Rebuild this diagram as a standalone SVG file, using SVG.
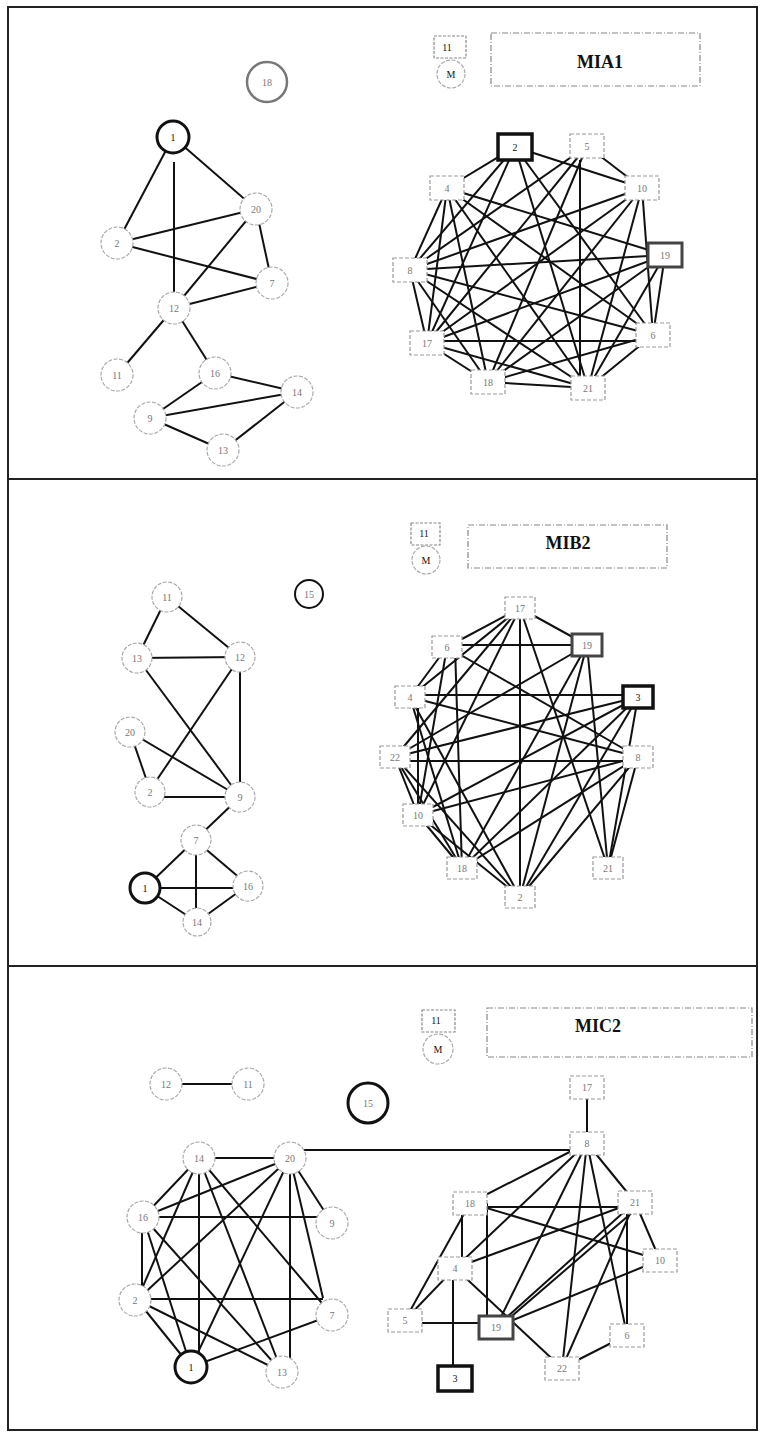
<svg xmlns="http://www.w3.org/2000/svg" width="765" height="1434" viewBox="0 0 765 1434">
<style>
.frame{fill:none;stroke:#222;stroke-width:2}
.e{stroke:#111;stroke-width:2;fill:none}
.c{fill:#fff;stroke:#aaa;stroke-width:1.2;stroke-dasharray:4 1.5}
.cb{fill:#fff;stroke:#111;stroke-width:3}
.cg{fill:#fff;stroke:#777;stroke-width:2.5}
.s{fill:#fff;stroke:#999;stroke-width:1.2;stroke-dasharray:4 2}
.sb{fill:#fff;stroke:#111;stroke-width:3.5}
.sg{fill:#fff;stroke:#444;stroke-width:3}
.t{font-family:"Liberation Serif",serif;font-size:10px;fill:#777;text-anchor:middle;dominant-baseline:central}
.tb{font-family:"Liberation Serif",serif;font-size:10px;fill:#111;text-anchor:middle;dominant-baseline:central}
.title{font-family:"Liberation Serif",serif;font-size:18px;font-weight:bold;fill:#111;text-anchor:middle;dominant-baseline:central}
.tbox{fill:none;stroke:#888;stroke-width:1.2;stroke-dasharray:6 2 1 2}
.leg{fill:none;stroke:#888;stroke-width:1.2;stroke-dasharray:3 1.5}
</style>
<rect class="frame" x="8" y="7" width="749" height="1423"/>
<line class="frame" x1="8" y1="479" x2="757" y2="479"/>
<line class="frame" x1="8" y1="966" x2="757" y2="966"/>

<!-- Panel 1 connectors -->
<g id="connectors-1">
<line class="e" x1="173" y1="137" x2="117" y2="243"/>
<line class="e" x1="174" y1="162" x2="174" y2="308"/>
<line class="e" x1="173" y1="137" x2="256" y2="209"/>
<line class="e" x1="117" y1="243" x2="256" y2="209"/>
<line class="e" x1="117" y1="243" x2="272" y2="283"/>
<line class="e" x1="256" y1="209" x2="174" y2="308"/>
<line class="e" x1="256" y1="209" x2="272" y2="283"/>
<line class="e" x1="174" y1="308" x2="272" y2="283"/>
<line class="e" x1="174" y1="308" x2="117" y2="375"/>
<line class="e" x1="174" y1="308" x2="215" y2="373"/>
<line class="e" x1="215" y1="373" x2="150" y2="418"/>
<line class="e" x1="215" y1="373" x2="297" y2="392"/>
<line class="e" x1="150" y1="418" x2="297" y2="392"/>
<line class="e" x1="150" y1="418" x2="223" y2="450"/>
<line class="e" x1="223" y1="450" x2="297" y2="392"/>
<!-- right -->
<line class="e" x1="515" y1="147" x2="447" y2="188"/>
<line class="e" x1="515" y1="147" x2="410" y2="270"/>
<line class="e" x1="515" y1="147" x2="427" y2="343"/>
<line class="e" x1="515" y1="147" x2="642" y2="188"/>
<line class="e" x1="515" y1="147" x2="653" y2="335"/>
<line class="e" x1="515" y1="147" x2="588" y2="388"/>
<line class="e" x1="587" y1="146" x2="642" y2="188"/>
<line class="e" x1="587" y1="146" x2="410" y2="270"/>
<line class="e" x1="587" y1="146" x2="488" y2="382"/>
<line class="e" x1="580" y1="160" x2="580" y2="388"/>
<line class="e" x1="587" y1="146" x2="427" y2="343"/>
<line class="e" x1="447" y1="188" x2="410" y2="270"/>
<line class="e" x1="447" y1="188" x2="427" y2="343"/>
<line class="e" x1="447" y1="188" x2="488" y2="382"/>
<line class="e" x1="447" y1="188" x2="588" y2="388"/>
<line class="e" x1="447" y1="188" x2="665" y2="255"/>
<line class="e" x1="447" y1="188" x2="653" y2="335"/>
<line class="e" x1="642" y1="188" x2="410" y2="270"/>
<line class="e" x1="642" y1="188" x2="488" y2="382"/>
<line class="e" x1="642" y1="188" x2="588" y2="388"/>
<line class="e" x1="642" y1="188" x2="653" y2="335"/>
<line class="e" x1="642" y1="188" x2="427" y2="343"/>
<line class="e" x1="665" y1="255" x2="410" y2="270"/>
<line class="e" x1="665" y1="255" x2="427" y2="343"/>
<line class="e" x1="665" y1="255" x2="653" y2="335"/>
<line class="e" x1="665" y1="255" x2="588" y2="388"/>
<line class="e" x1="665" y1="255" x2="488" y2="382"/>
<line class="e" x1="410" y1="270" x2="427" y2="343"/>
<line class="e" x1="410" y1="270" x2="488" y2="382"/>
<line class="e" x1="410" y1="270" x2="588" y2="388"/>
<line class="e" x1="410" y1="270" x2="653" y2="335"/>
<line class="e" x1="427" y1="343" x2="488" y2="382"/>
<line class="e" x1="427" y1="341" x2="653" y2="341"/>
<line class="e" x1="427" y1="343" x2="588" y2="388"/>
<line class="e" x1="488" y1="382" x2="588" y2="388"/>
<line class="e" x1="488" y1="382" x2="653" y2="335"/>
<line class="e" x1="588" y1="388" x2="653" y2="335"/>
</g>

<!-- Panel 1 legend/title -->
<g id="legend-1">
<rect class="leg" x="434" y="36" width="32" height="22"/>
<text class="tb" x="447" y="47">11</text>
<circle class="c" cx="451" cy="74" r="14"/>
<text class="tb" x="451" y="74">M</text>
</g>
<g id="title-1">
<rect class="tbox" x="491" y="33" width="209" height="53"/>
<text class="title" x="600" y="62">MIA1</text>
</g>

<!-- Panel 1 nodes -->
<g id="p1-n18"><circle class="cg" cx="267" cy="82" r="20"/><text class="t" x="267" y="82">18</text></g>
<g id="p1-n1"><circle class="cb" cx="173" cy="137" r="16"/><text class="tb" x="173" y="137">1</text></g>
<g id="p1-n20"><circle class="c" cx="256" cy="209" r="16"/><text class="t" x="256" y="209">20</text></g>
<g id="p1-n2"><circle class="c" cx="117" cy="243" r="16"/><text class="t" x="117" y="243">2</text></g>
<g id="p1-n7"><circle class="c" cx="272" cy="283" r="16"/><text class="t" x="272" y="283">7</text></g>
<g id="p1-n12"><circle class="c" cx="174" cy="308" r="16"/><text class="t" x="174" y="308">12</text></g>
<g id="p1-n11"><circle class="c" cx="117" cy="375" r="16"/><text class="t" x="117" y="375">11</text></g>
<g id="p1-n16"><circle class="c" cx="215" cy="373" r="16"/><text class="t" x="215" y="373">16</text></g>
<g id="p1-n14"><circle class="c" cx="297" cy="392" r="16"/><text class="t" x="297" y="392">14</text></g>
<g id="p1-n9"><circle class="c" cx="150" cy="418" r="16"/><text class="t" x="150" y="418">9</text></g>
<g id="p1-n13"><circle class="c" cx="223" cy="450" r="16"/><text class="t" x="223" y="450">13</text></g>

<g id="p1-s2"><rect class="sb" x="498" y="134" width="34" height="26"/><text class="tb" x="515" y="147">2</text></g>
<g id="p1-s5"><rect class="s" x="570" y="134" width="34" height="24"/><text class="t" x="587" y="146">5</text></g>
<g id="p1-s10"><rect class="s" x="625" y="176" width="34" height="24"/><text class="t" x="642" y="188">10</text></g>
<g id="p1-s4"><rect class="s" x="430" y="176" width="34" height="24"/><text class="t" x="447" y="188">4</text></g>
<g id="p1-s19"><rect class="sg" x="648" y="243" width="34" height="24"/><text class="t" x="665" y="255">19</text></g>
<g id="p1-s8"><rect class="s" x="393" y="258" width="34" height="24"/><text class="t" x="410" y="270">8</text></g>
<g id="p1-s17"><rect class="s" x="410" y="331" width="34" height="24"/><text class="t" x="427" y="343">17</text></g>
<g id="p1-s18"><rect class="s" x="471" y="370" width="34" height="24"/><text class="t" x="488" y="382">18</text></g>
<g id="p1-s21"><rect class="s" x="571" y="376" width="34" height="24"/><text class="t" x="588" y="388">21</text></g>
<g id="p1-s6"><rect class="s" x="636" y="323" width="34" height="24"/><text class="t" x="653" y="335">6</text></g>

<!-- Panel 2 connectors -->
<g id="connectors-2">
<line class="e" x1="167" y1="597" x2="137" y2="658"/>
<line class="e" x1="167" y1="597" x2="240" y2="657"/>
<line class="e" x1="137" y1="658" x2="240" y2="657"/>
<line class="e" x1="137" y1="658" x2="240" y2="797"/>
<line class="e" x1="240" y1="657" x2="150" y2="790"/>
<line class="e" x1="240" y1="657" x2="240" y2="797"/>
<line class="e" x1="130" y1="732" x2="150" y2="790"/>
<line class="e" x1="130" y1="732" x2="240" y2="797"/>
<line class="e" x1="150" y1="797" x2="240" y2="797"/>
<line class="e" x1="240" y1="797" x2="195" y2="840"/>
<line class="e" x1="195" y1="840" x2="145" y2="888"/>
<line class="e" x1="195" y1="840" x2="248" y2="885"/>
<line class="e" x1="196" y1="840" x2="196" y2="922"/>
<line class="e" x1="145" y1="888" x2="248" y2="888"/>
<line class="e" x1="145" y1="888" x2="197" y2="922"/>
<line class="e" x1="197" y1="922" x2="248" y2="885"/>
<!-- right -->
<line class="e" x1="520" y1="608" x2="447" y2="647"/>
<line class="e" x1="520" y1="608" x2="587" y2="645"/>
<line class="e" x1="520" y1="608" x2="410" y2="697"/>
<line class="e" x1="520" y1="608" x2="395" y2="757"/>
<line class="e" x1="520" y1="608" x2="418" y2="815"/>
<line class="e" x1="520" y1="608" x2="520" y2="897"/>
<line class="e" x1="520" y1="608" x2="608" y2="868"/>
<line class="e" x1="447" y1="645" x2="587" y2="645"/>
<line class="e" x1="447" y1="647" x2="410" y2="697"/>
<line class="e" x1="455" y1="647" x2="462" y2="868"/>
<line class="e" x1="447" y1="647" x2="638" y2="757"/>
<line class="e" x1="447" y1="647" x2="418" y2="815"/>
<line class="e" x1="587" y1="645" x2="395" y2="757"/>
<line class="e" x1="587" y1="645" x2="520" y2="897"/>
<line class="e" x1="587" y1="645" x2="462" y2="868"/>
<line class="e" x1="587" y1="645" x2="608" y2="868"/>
<line class="e" x1="410" y1="695" x2="638" y2="695"/>
<line class="e" x1="410" y1="697" x2="638" y2="757"/>
<line class="e" x1="418" y1="697" x2="418" y2="815"/>
<line class="e" x1="410" y1="697" x2="462" y2="868"/>
<line class="e" x1="410" y1="697" x2="520" y2="897"/>
<line class="e" x1="638" y1="697" x2="395" y2="757"/>
<line class="e" x1="638" y1="697" x2="418" y2="815"/>
<line class="e" x1="638" y1="697" x2="462" y2="868"/>
<line class="e" x1="638" y1="697" x2="520" y2="897"/>
<line class="e" x1="638" y1="697" x2="608" y2="868"/>
<line class="e" x1="395" y1="761" x2="638" y2="761"/>
<line class="e" x1="395" y1="757" x2="418" y2="815"/>
<line class="e" x1="395" y1="757" x2="462" y2="868"/>
<line class="e" x1="395" y1="757" x2="520" y2="897"/>
<line class="e" x1="638" y1="757" x2="418" y2="815"/>
<line class="e" x1="638" y1="757" x2="520" y2="897"/>
<line class="e" x1="638" y1="757" x2="608" y2="868"/>
<line class="e" x1="638" y1="757" x2="462" y2="868"/>
<line class="e" x1="418" y1="815" x2="462" y2="868"/>
<line class="e" x1="418" y1="815" x2="520" y2="897"/>
</g>

<g id="legend-2">
<rect class="leg" x="411" y="523" width="29" height="22"/>
<text class="tb" x="424" y="533">11</text>
<circle class="c" cx="426" cy="560" r="14"/>
<text class="tb" x="426" y="560">M</text>
</g>
<g id="title-2">
<rect class="tbox" x="468" y="525" width="199" height="43"/>
<text class="title" x="568" y="543">MIB2</text>
</g>

<g id="p2-n15"><circle class="cb" cx="309" cy="594" r="14" style="stroke-width:2"/><text class="t" x="309" y="594">15</text></g>
<g id="p2-n11"><circle class="c" cx="167" cy="597" r="15"/><text class="t" x="167" y="597">11</text></g>
<g id="p2-n13"><circle class="c" cx="137" cy="658" r="15"/><text class="t" x="137" y="658">13</text></g>
<g id="p2-n12"><circle class="c" cx="240" cy="657" r="15"/><text class="t" x="240" y="657">12</text></g>
<g id="p2-n20"><circle class="c" cx="130" cy="732" r="15"/><text class="t" x="130" y="732">20</text></g>
<g id="p2-n2"><circle class="c" cx="150" cy="792" r="15"/><text class="t" x="150" y="792">2</text></g>
<g id="p2-n9"><circle class="c" cx="240" cy="797" r="15"/><text class="t" x="240" y="797">9</text></g>
<g id="p2-n7"><circle class="c" cx="196" cy="840" r="15"/><text class="t" x="196" y="840">7</text></g>
<g id="p2-n1"><circle class="cb" cx="145" cy="888" r="15"/><text class="tb" x="145" y="888">1</text></g>
<g id="p2-n16"><circle class="c" cx="248" cy="886" r="15"/><text class="t" x="248" y="886">16</text></g>
<g id="p2-n14"><circle class="c" cx="197" cy="922" r="14"/><text class="t" x="197" y="922">14</text></g>

<g id="p2-s17"><rect class="s" x="505" y="597" width="30" height="22"/><text class="t" x="520" y="608">17</text></g>
<g id="p2-s6"><rect class="s" x="432" y="636" width="30" height="22"/><text class="t" x="447" y="647">6</text></g>
<g id="p2-s19"><rect class="sg" x="572" y="634" width="30" height="22"/><text class="t" x="587" y="645">19</text></g>
<g id="p2-s4"><rect class="s" x="395" y="686" width="30" height="22"/><text class="t" x="410" y="697">4</text></g>
<g id="p2-s3"><rect class="sb" x="623" y="686" width="30" height="22"/><text class="tb" x="638" y="697">3</text></g>
<g id="p2-s22"><rect class="s" x="380" y="746" width="30" height="22"/><text class="t" x="395" y="757">22</text></g>
<g id="p2-s8"><rect class="s" x="623" y="746" width="30" height="22"/><text class="t" x="638" y="757">8</text></g>
<g id="p2-s10"><rect class="s" x="403" y="804" width="30" height="22"/><text class="t" x="418" y="815">10</text></g>
<g id="p2-s18"><rect class="s" x="447" y="857" width="30" height="22"/><text class="t" x="462" y="868">18</text></g>
<g id="p2-s21"><rect class="s" x="593" y="857" width="30" height="22"/><text class="t" x="608" y="868">21</text></g>
<g id="p2-s2"><rect class="s" x="505" y="886" width="30" height="22"/><text class="t" x="520" y="897">2</text></g>

<!-- Panel 3 connectors -->
<g id="connectors-3">
<line class="e" x1="166" y1="1084" x2="248" y2="1084"/>
<line class="e" x1="199" y1="1158" x2="290" y2="1158"/>
<line class="e" x1="199" y1="1158" x2="143" y2="1217"/>
<line class="e" x1="199" y1="1158" x2="137" y2="1300"/>
<line class="e" x1="199" y1="1158" x2="199" y2="1367"/>
<line class="e" x1="199" y1="1158" x2="282" y2="1372"/>
<line class="e" x1="199" y1="1158" x2="332" y2="1315"/>
<line class="e" x1="290" y1="1158" x2="143" y2="1217"/>
<line class="e" x1="290" y1="1158" x2="137" y2="1300"/>
<line class="e" x1="290" y1="1158" x2="191" y2="1367"/>
<line class="e" x1="290" y1="1158" x2="290" y2="1372"/>
<line class="e" x1="290" y1="1158" x2="332" y2="1223"/>
<line class="e" x1="290" y1="1158" x2="323" y2="1298"/>
<line class="e" x1="143" y1="1217" x2="332" y2="1217"/>
<line class="e" x1="142" y1="1217" x2="142" y2="1300"/>
<line class="e" x1="143" y1="1217" x2="191" y2="1367"/>
<line class="e" x1="143" y1="1217" x2="282" y2="1372"/>
<line class="e" x1="137" y1="1299" x2="323" y2="1299"/>
<line class="e" x1="137" y1="1300" x2="191" y2="1367"/>
<line class="e" x1="137" y1="1300" x2="282" y2="1372"/>
<line class="e" x1="191" y1="1367" x2="332" y2="1315"/>
<line class="e" x1="290" y1="1150" x2="587" y2="1150"/>
<!-- right -->
<line class="e" x1="587" y1="1087" x2="587" y2="1143"/>
<line class="e" x1="587" y1="1143" x2="470" y2="1203"/>
<line class="e" x1="587" y1="1143" x2="455" y2="1268"/>
<line class="e" x1="587" y1="1143" x2="496" y2="1327"/>
<line class="e" x1="587" y1="1143" x2="562" y2="1368"/>
<line class="e" x1="587" y1="1143" x2="627" y2="1335"/>
<line class="e" x1="587" y1="1143" x2="635" y2="1202"/>
<line class="e" x1="470" y1="1207" x2="635" y2="1207"/>
<line class="e" x1="462" y1="1203" x2="462" y2="1268"/>
<line class="e" x1="470" y1="1203" x2="405" y2="1320"/>
<line class="e" x1="487" y1="1203" x2="487" y2="1327"/>
<line class="e" x1="470" y1="1203" x2="660" y2="1260"/>
<line class="e" x1="635" y1="1202" x2="455" y2="1268"/>
<line class="e" x1="635" y1="1202" x2="496" y2="1327"/>
<line class="e" x1="635" y1="1210" x2="505" y2="1322"/>
<line class="e" x1="635" y1="1202" x2="562" y2="1368"/>
<line class="e" x1="627" y1="1202" x2="627" y2="1335"/>
<line class="e" x1="635" y1="1202" x2="660" y2="1260"/>
<line class="e" x1="455" y1="1268" x2="562" y2="1368"/>
<line class="e" x1="455" y1="1268" x2="405" y2="1320"/>
<line class="e" x1="453" y1="1268" x2="453" y2="1378"/>
<line class="e" x1="405" y1="1323" x2="496" y2="1323"/>
<line class="e" x1="496" y1="1327" x2="660" y2="1260"/>
<line class="e" x1="562" y1="1368" x2="627" y2="1335"/>
</g>

<g id="legend-3">
<rect class="leg" x="422" y="1010" width="33" height="22"/>
<text class="tb" x="436" y="1020">11</text>
<circle class="c" cx="438" cy="1049" r="15"/>
<text class="tb" x="438" y="1049">M</text>
</g>
<g id="title-3">
<rect class="tbox" x="487" y="1008" width="265" height="49"/>
<text class="title" x="598" y="1026">MIC2</text>
</g>

<g id="p3-n12"><circle class="c" cx="166" cy="1084" r="16"/><text class="t" x="166" y="1084">12</text></g>
<g id="p3-n11"><circle class="c" cx="248" cy="1084" r="16"/><text class="t" x="248" y="1084">11</text></g>
<g id="p3-n15"><circle class="cb" cx="368" cy="1103" r="20"/><text class="t" x="368" y="1103">15</text></g>
<g id="p3-n14"><circle class="c" cx="199" cy="1158" r="16"/><text class="t" x="199" y="1158">14</text></g>
<g id="p3-n20"><circle class="c" cx="290" cy="1158" r="16"/><text class="t" x="290" y="1158">20</text></g>
<g id="p3-n16"><circle class="c" cx="143" cy="1217" r="16"/><text class="t" x="143" y="1217">16</text></g>
<g id="p3-n9"><circle class="c" cx="332" cy="1223" r="16"/><text class="t" x="332" y="1223">9</text></g>
<g id="p3-n2"><circle class="c" cx="135" cy="1300" r="16"/><text class="t" x="135" y="1300">2</text></g>
<g id="p3-n7"><circle class="c" cx="332" cy="1315" r="16"/><text class="t" x="332" y="1315">7</text></g>
<g id="p3-n1"><circle class="cb" cx="191" cy="1367" r="16"/><text class="tb" x="191" y="1367">1</text></g>
<g id="p3-n13"><circle class="c" cx="282" cy="1372" r="16"/><text class="t" x="282" y="1372">13</text></g>

<g id="p3-s17"><rect class="s" x="570" y="1076" width="34" height="23"/><text class="t" x="587" y="1087">17</text></g>
<g id="p3-s8"><rect class="s" x="570" y="1132" width="34" height="23"/><text class="t" x="587" y="1143">8</text></g>
<g id="p3-s18"><rect class="s" x="453" y="1192" width="34" height="23"/><text class="t" x="470" y="1203">18</text></g>
<g id="p3-s21"><rect class="s" x="618" y="1191" width="34" height="23"/><text class="t" x="635" y="1202">21</text></g>
<g id="p3-s10"><rect class="s" x="643" y="1249" width="34" height="23"/><text class="t" x="660" y="1260">10</text></g>
<g id="p3-s4"><rect class="s" x="438" y="1257" width="34" height="23"/><text class="t" x="455" y="1268">4</text></g>
<g id="p3-s5"><rect class="s" x="388" y="1309" width="34" height="23"/><text class="t" x="405" y="1320">5</text></g>
<g id="p3-s19"><rect class="sg" x="479" y="1316" width="34" height="23"/><text class="t" x="496" y="1327">19</text></g>
<g id="p3-s6"><rect class="s" x="610" y="1324" width="34" height="23"/><text class="t" x="627" y="1335">6</text></g>
<g id="p3-s22"><rect class="s" x="545" y="1357" width="34" height="23"/><text class="t" x="562" y="1368">22</text></g>
<g id="p3-s3"><rect class="sb" x="438" y="1366" width="34" height="25"/><text class="tb" x="455" y="1378">3</text></g>
</svg>
